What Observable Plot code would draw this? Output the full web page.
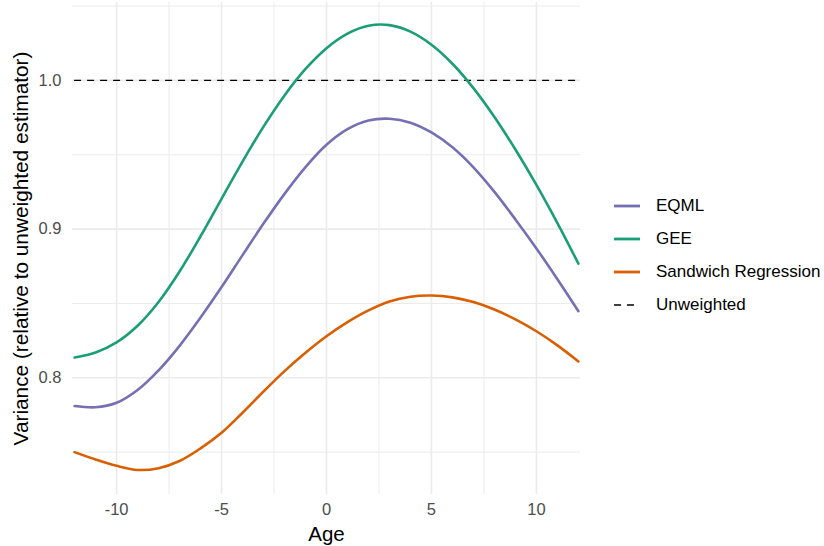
<!DOCTYPE html>
<html>
<head>
<meta charset="utf-8">
<script src="https://cdn.jsdelivr.net/npm/d3@7"></script>
<script src="https://cdn.jsdelivr.net/npm/@observablehq/plot@0.6"></script>
<style>
  html, body { margin: 0; padding: 0; background: #fff; }
  #wrap { position: relative; width: 824px; height: 546px; font-family: "Liberation Sans", Arial, Helvetica, sans-serif; }
  #chart { position: absolute; left: 0; top: 0; }
  #legend { position: absolute; left: 612px; top: 189px; }
  .item { display: flex; align-items: center; height: 33px; font-size: 17px; color: #000; white-space: nowrap; }
  .item svg { margin-right: 14px; flex: none; }
</style>
</head>
<body>
<div id="wrap"><div id="chart"></div><div id="legend"></div></div>
<script>
const ages = [-12,-11,-10,-9,-8,-7,-6,-5,-4,-3,-2,-1,0,1,2,3,4,5,6,7,8,9,10,11,12];
const eqml = [0.7810,0.7802,0.7832,0.7918,0.8050,0.8215,0.8405,0.8610,0.8825,0.9037,0.9237,0.9417,0.9567,0.9672,0.9730,0.9742,0.9716,0.9650,0.9550,0.9415,0.9250,0.9065,0.8870,0.8663,0.8448];
const gee = [0.8136,0.8170,0.8238,0.8350,0.8510,0.8715,0.8952,0.9204,0.9454,0.9689,0.9899,1.0077,1.0217,1.0315,1.0368,1.0372,1.0328,1.0240,1.0112,0.9948,0.9754,0.9535,0.9297,0.9040,0.8768];
const sandwich = [0.7500,0.7450,0.7408,0.7380,0.7392,0.7440,0.7525,0.7630,0.7765,0.7908,0.8045,0.8168,0.8279,0.8374,0.8453,0.8513,0.8545,0.8553,0.8541,0.8509,0.8459,0.8393,0.8313,0.8218,0.8110];
const unweighted = 1.0;

const seriesNames = ["EQML", "GEE", "Sandwich Regression"];
const seriesColors = ["#7570b3", "#1b9e77", "#d95f02"];
const xTicks = [-10, -5, 0, 5, 10];
const xMinor = [-7.5, -2.5, 2.5, 7.5];
const yTicks = [0.8, 0.9, 1.0];
const yMinor = [0.75, 0.85, 0.95, 1.05];

const seriesValues = [eqml, gee, sandwich];
const rows = [];
seriesNames.forEach((name, i) => ages.forEach((a, j) => rows.push({age: a, value: seriesValues[i][j], series: name})));

const chart = Plot.plot({
  width: 600,
  height: 546,
  marginLeft: 72,
  marginRight: 20,
  marginTop: 2,
  marginBottom: 52,
  style: {fontFamily: '"Liberation Sans", Arial, Helvetica, sans-serif', background: "#fff"},
  x: {domain: [-12.1, 12.1]},
  y: {domain: [0.7215, 1.0524]},
  color: {domain: seriesNames, range: seriesColors},
  marks: [
    Plot.ruleX(xMinor, {stroke: "#ebebeb", strokeWidth: 1}),
    Plot.ruleY(yMinor, {stroke: "#ebebeb", strokeWidth: 1}),
    Plot.ruleX(xTicks, {stroke: "#ebebeb", strokeWidth: 1.6}),
    Plot.ruleY(yTicks, {stroke: "#ebebeb", strokeWidth: 1.6}),
    Plot.axisX(xTicks, {tickSize: 0, tickPadding: 9, fontSize: 16.5, color: "#4d4d4d", label: null, tickFormat: d => String(d)}),
    Plot.axisY(yTicks, {tickSize: 0, tickPadding: 11, fontSize: 16.5, color: "#4d4d4d", label: null, tickFormat: d => d.toFixed(1)}),
    Plot.text(["Age"], {frameAnchor: "bottom", lineAnchor: "bottom", dy: 46, fontSize: 20.5, fill: "#000"}),
    Plot.text(["Variance (relative to unweighted estimator)"], {frameAnchor: "left", textAnchor: "middle", lineAnchor: "middle", dx: -51, rotate: -90, fontSize: 20.8, fill: "#000"}),
    Plot.ruleY([unweighted], {x1: ages[0], x2: ages[ages.length - 1], stroke: "#000", strokeWidth: 1.3, strokeDasharray: "7,6"}),
    Plot.line(rows, {x: "age", y: "value", stroke: "series", z: "series", strokeWidth: 2.6, curve: "catmull-rom"})
  ]
});
document.getElementById("chart").appendChild(chart);

const legendItems = seriesNames.map((n, i) => ({name: n, color: seriesColors[i], dash: null}))
  .concat([{name: "Unweighted", color: "#000", dash: "7,6"}]);
const legend = document.getElementById("legend");
legendItems.forEach(it => {
  const div = document.createElement("div");
  div.className = "item";
  const sw = it.dash
    ? `<svg width="30" height="10"><line x1="2" x2="28" y1="5" y2="5" stroke="${it.color}" stroke-width="1.3" stroke-dasharray="${it.dash}"/></svg>`
    : `<svg width="30" height="10"><line x1="2" x2="28" y1="5" y2="5" stroke="${it.color}" stroke-width="2.8"/></svg>`;
  div.innerHTML = sw + `<span>${it.name}</span>`;
  legend.appendChild(div);
});
</script>
</body>
</html>
